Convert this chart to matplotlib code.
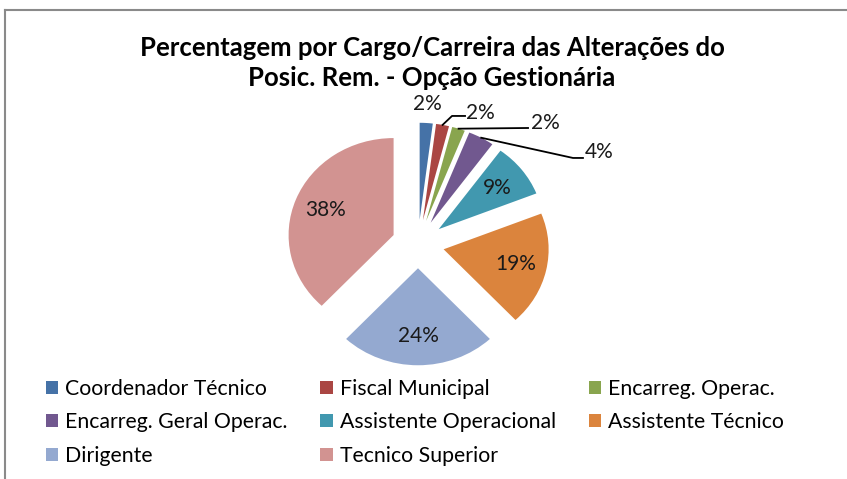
import matplotlib.pyplot as plt
import numpy as np
from matplotlib.patches import Patch
from matplotlib.lines import Line2D

plt.rcParams['font.family'] = ['Lato', 'DejaVu Sans']

cargos = ['Coordenador Técnico', 'Fiscal Municipal', 'Encarreg. Operac.',
          'Encarreg. Geral Operac.', 'Assistente Operacional', 'Assistente Técnico',
          'Dirigente', 'Tecnico Superior']
percentagens = [2, 2, 2, 4, 9, 19, 24, 38]
cores = ['#4572A7', '#AA4643', '#89A54E', '#71588F', '#4198AF', '#DB843D', '#94A9D0', '#D29391']

titulo = 'Percentagem por Cargo/Carreira das Alterações do\nPosic. Rem. - Opção Gestionária'

fig = plt.figure(figsize=(8.47, 4.79), dpi=100)

# moldura (só topo e esquerda visíveis)
fig.add_artist(Line2D([5 / 847, 1], [1 - 10 / 479] * 2, color='#8a8a8a', lw=1.5))
fig.add_artist(Line2D([5 / 847] * 2, [0, 1 - 10 / 479], color='#8a8a8a', lw=1.5))

fig.text(432 / 847, 1 - 63 / 479, titulo, ha='center', va='center',
         fontsize=18.5, fontweight='bold', linespacing=1.25)

# a imagem original está esticada na horizontal -> escalas diferentes em x e y
ax = fig.add_axes([(418 - 150) / 847, (479 - 244 - 150) / 479, 300 / 847, 300 / 479])
wedges, _ = ax.pie(percentagens, colors=cores, startangle=90, counterclock=False,
                   explode=[0.25] * len(percentagens), radius=1.0,
                   wedgeprops=dict(linewidth=0))
ax.set_aspect('auto')
ax.set_xlim(-150 / 105, 150 / 105)
ax.set_ylim(-150 / 97, 150 / 97)
ax.axis('off')

# posições dos rótulos externos (texto, cotovelos da linha)
externos = {1: ((0.46, 1.35), [(0.324, 1.32), (0.448, 1.32)]),
            2: ((1.08, 1.25), [(1.048, 1.196)]),
            3: ((1.59, 0.95), [(1.476, 0.887), (1.571, 0.887)])}

for i, w in enumerate(wedges):
    ang = np.deg2rad((w.theta1 + w.theta2) / 2)
    cx, cy = w.center
    txt = f'{percentagens[i]}%'
    if i == 0:
        ax.text(cx + 1.2 * np.cos(ang), cy + 1.2 * np.sin(ang), txt,
                ha='center', va='center', fontsize=15, color='#1a1a1a')
    elif i in externos:
        pos, pts = externos[i]
        x0, y0 = cx + np.cos(ang), cy + np.sin(ang)
        xs = [x0] + [p[0] for p in pts]
        ys = [y0] + [p[1] for p in pts]
        ax.plot(xs, ys, color='black', lw=1.3, clip_on=False)
        ax.text(pos[0], pos[1], txt, ha='left', va='center', fontsize=15, color='#1a1a1a')
    else:
        ax.text(cx + 0.7 * np.cos(ang), cy + 0.7 * np.sin(ang), txt,
                ha='center', va='center', fontsize=15, color='#1a1a1a')

# legenda em linhas (matplotlib preenche por colunas)
ordem = [0, 3, 6, 1, 4, 7, 2, 5]
handles = [Patch(facecolor=cores[k], edgecolor='none') for k in ordem]
fig.legend(handles, [cargos[k] for k in ordem], ncol=3, loc='upper left',
           bbox_to_anchor=(46 / 847, 1 - 379 / 479), frameon=False, fontsize=15.3,
           handlelength=0.57, handleheight=0.57, handletextpad=0.33,
           columnspacing=1.55, labelspacing=0.63, borderpad=0, borderaxespad=0)

fig.savefig('out.png', dpi=100)
